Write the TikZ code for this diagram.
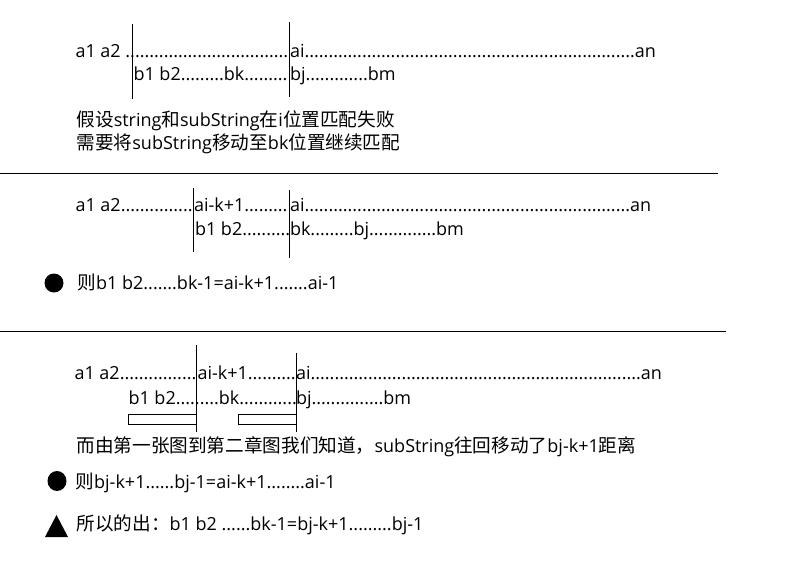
\documentclass[tikz,border=0pt]{standalone}
\usepackage{fontspec}
\setmainfont{Open Sans}
\newfontfamily\cjk[Scale=1.035]{Noto Sans CJK SC}
\tikzset{
  txt/.style={anchor=base west, inner sep=0pt, font=\fontsize{18pt}{22pt}\selectfont},
  marca/.style={line width=1pt},
}

\begin{document}
\begin{tikzpicture}[x=1pt, y=-1pt, marca]
  \useasboundingbox (0,0) rectangle (804,568);

  % Primer paso: fallo en la posicion i
  \node[txt] (ra1) at (75,57) {a1 a2 ..................................}; \node[txt] (rai1) at (289.5,57) {ai.....................................................................an};
  \node[txt] (rb1) at (133,80) {b1 b2.........bk.........}; \node[txt] (rbj1) at (289.5,80) {bj.............bm};
  \draw (132,24) -- (132,99);
  \draw (289.5,22) -- (289.5,97);
  \node[txt] (t1) at (76,126) {{\cjk 假设}string{\cjk 和}subString{\cjk 在}i{\cjk 位置匹配失败}};
  \node[txt] (t2) at (76,149) {{\cjk 需要将}subString{\cjk 移动至}bk{\cjk 位置继续匹配}};
  \draw (0,173) -- (718,173);

  % Segundo paso: subString movido hasta bk
  \node[txt] (ra2) at (75,211) {a1 a2...............}; \node[txt] (rak2) at (193.5,211) {ai-k+1.........}; \node[txt] (rai2) at (289.5,211) {ai....................................................................an};
  \node[txt] (rb2) at (194.5,235) {b1 b2..........}; \node[txt] (rbk2) at (289.5,235) {bk.........bj..............bm};
  \draw (193,188) -- (193,252);
  \draw (289.5,190) -- (289.5,258);
  \fill (54,283) circle (9.5);
  \node[txt] (t3) at (77,289) {{\cjk 则}b1 b2.......bk-1=ai-k+1.......ai-1};
  \draw (0,331) -- (726,331);

  % Tercer paso: los dos tramos iguales
  \node[txt] (ra3) at (74,379) {a1 a2................}; \node[txt] (rak3) at (197,379) {ai-k+1..........}; \node[txt] (rai3) at (295.5,379) {ai.....................................................................an};
  \node[txt] (rb3) at (128,404) {b1 b2.........bk............}; \node[txt] (rbj3) at (295.5,404) {bj...............bm};
  \draw[fill=white] (128,414) rectangle (196,424);
  \draw[fill=white] (238,414) rectangle (296,424);
  \draw (196,345) -- (196,432);
  \draw (296,353) -- (296,432);
  \node[txt] (t4) at (76,452) {{\cjk 而由第一张图到第二章图我们知道，}subString{\cjk 往回移动了}bj-k+1{\cjk 距离}};
  \fill (57,481) ellipse (9.5 and 10);
  \node[txt] (t5) at (75,488) {{\cjk 则}bj-k+1......bj-1=ai-k+1........ai-1};
  \fill (45,537) -- (68,537) -- (56.5,515) -- cycle;
  \node[txt] (t6) at (76,530) {{\cjk 所以的出：}b1 b2 ......bk-1=bj-k+1.........bj-1};
\end{tikzpicture}
\end{document}
